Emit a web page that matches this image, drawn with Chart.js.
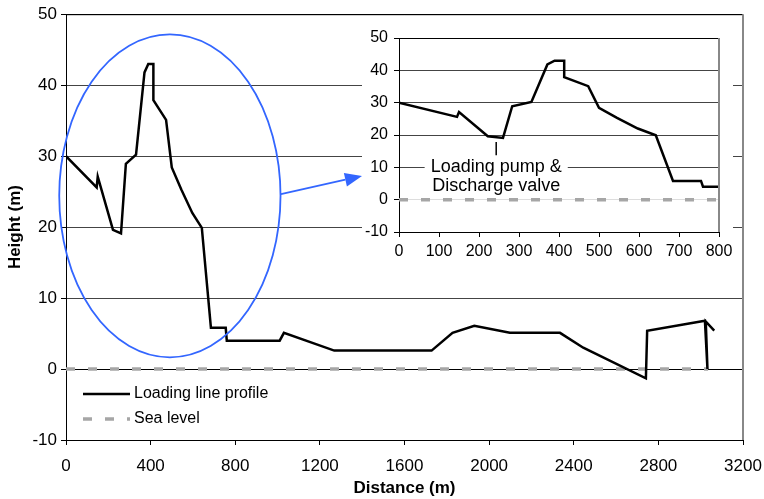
<!DOCTYPE html>
<html>
<head>
<meta charset="utf-8">
<script src="https://cdn.jsdelivr.net/npm/chart.js@4.4.1/dist/chart.umd.min.js"></script>
<style>
  html, body { margin: 0; padding: 0; background: #fff; }
  #wrap { position: relative; width: 764px; height: 499px; }
  #mainChart { position: absolute; left: 0; top: 0; }
  #insetBox { position: absolute; left: 362px; top: 18px; width: 371px; height: 247px; background: #fff; }
</style>
</head>
<body>
<div id="wrap">
  <canvas id="mainChart" width="764" height="499"></canvas>
  <div id="insetBox"><canvas id="insetChart" width="371" height="247"></canvas></div>
</div>
<script>
// data
const distance = [0, 145, 150, 222, 260, 283, 331, 371, 389, 413, 413, 473, 500, 545, 597, 642,
  685, 755, 760, 1010, 1030, 1268, 1728, 1827, 1930, 2098, 2335, 2445, 2741, 2747, 3020, 3032, 3024, 3064];
const height = [30, 25.6, 27.1, 19.6, 19.1, 28.9, 30.2, 41.8, 43, 43, 37.9, 35.1, 28.4, 25.3, 22.0, 19.9,
  5.8, 5.8, 4.0, 4.0, 5.1, 2.6, 2.6, 5.1, 6.1, 5.1, 5.1, 3.0, -1.3, 5.4, 6.8, 0, 6.7, 5.4];
const seaX = [0, 3035];
const seaY = [0, 0];
const insetSeaX = [0, 800];
const insetSeaY = [0, 0];

const mainXTicks = [0, 400, 800, 1200, 1600, 2000, 2400, 2800, 3200];
const insetXTicks = [0, 100, 200, 300, 400, 500, 600, 700, 800];
const yTicks = [-10, 0, 10, 20, 30, 40, 50];

const seriesNames = ['Loading line profile', 'Sea level'];
const noteText = ['Loading pump &', 'Discharge valve'];

const FONT = "Arial, 'Liberation Sans', sans-serif";
Chart.defaults.font.family = FONT;
Chart.defaults.color = '#000';

const toPts = (xs, ys) => xs.map((v, i) => ({ x: v, y: ys[i] }));
const setTicks = list => s => { s.ticks = list.map(v => ({ value: v })); };
const plain = v => String(v);
const fixHeight = h => s => { s.height = h; s.paddingLeft = 0; s.paddingRight = 0; };

function profileSet() {
  return {
    label: seriesNames[0],
    data: toPts(distance, height),
    borderColor: '#000',
    borderWidth: 2.5,
    pointRadius: 0,
    tension: 0
  };
}
function seaSet(xs, ys) {
  return {
    label: seriesNames[1],
    data: toPts(xs, ys),
    borderColor: '#a6a6a6',
    borderWidth: 3.5,
    borderDash: [9, 13],
    borderCapStyle: 'butt',
    pointRadius: 0
  };
}

// frame on top and right side
const frame = {
  id: 'frame',
  afterDraw(chart) {
    const { ctx, chartArea: a } = chart;
    ctx.save();
    ctx.strokeStyle = '#000';
    ctx.lineWidth = 1;
    ctx.beginPath();
    ctx.moveTo(a.left, a.top + 0.5);
    ctx.lineTo(a.right, a.top + 0.5);
    ctx.stroke();
    ctx.strokeStyle = '#888';
    ctx.lineWidth = 2;
    ctx.beginPath();
    ctx.moveTo(a.right, a.top);
    ctx.lineTo(a.right, a.bottom);
    ctx.stroke();
    ctx.restore();
  }
};

// blue ellipse + arrow and legend
const mainExtras = {
  id: 'mainExtras',
  afterDatasetsDraw(chart) {
    const { ctx, scales: { x, y }, chartArea: a } = chart;
    ctx.save();
    const cx = x.getPixelForValue(491), cy = y.getPixelForValue(24.4);
    const rx = x.getPixelForValue(491 + 523) - cx;
    const ry = cy - y.getPixelForValue(24.4 + 22.75);
    ctx.strokeStyle = '#3366ff';
    ctx.lineWidth = 1.8;
    ctx.beginPath();
    ctx.ellipse(cx, cy, rx, ry, 0, 0, Math.PI * 2);
    ctx.stroke();

    const x0 = x.getPixelForValue(1016), y0 = y.getPixelForValue(24.65);
    const x1 = x.getPixelForValue(1399), y1 = y.getPixelForValue(27.2);
    const ang = Math.atan2(y1 - y0, x1 - x0);
    const hl = 17, hw = 7;
    const bx = x1 - hl * Math.cos(ang), by = y1 - hl * Math.sin(ang);
    ctx.beginPath();
    ctx.moveTo(x0, y0);
    ctx.lineTo(bx, by);
    ctx.stroke();
    ctx.fillStyle = '#3366ff';
    ctx.beginPath();
    ctx.moveTo(x1, y1);
    ctx.lineTo(bx + hw * Math.sin(ang), by - hw * Math.cos(ang));
    ctx.lineTo(bx - hw * Math.sin(ang), by + hw * Math.cos(ang));
    ctx.closePath();
    ctx.fill();

    // legend
    const lx = a.left + 17, ly = a.bottom - 46;
    chart.data.datasets.forEach((ds, i) => {
      const yy = ly + i * 25;
      ctx.strokeStyle = ds.borderColor;
      ctx.lineWidth = ds.borderWidth;
      ctx.setLineDash(ds.borderDash || []);
      ctx.lineCap = 'butt';
      ctx.beginPath();
      ctx.moveTo(lx, yy);
      ctx.lineTo(lx + 47, yy);
      ctx.stroke();
      ctx.setLineDash([]);
      ctx.fillStyle = '#000';
      ctx.font = '16px ' + FONT;
      ctx.textBaseline = 'middle';
      ctx.fillText(ds.label, lx + 51, yy);
    });
    ctx.restore();
  }
};

// note in the inset
const insetNote = {
  id: 'insetNote',
  afterDatasetsDraw(chart) {
    const { ctx, scales: { x, y } } = chart;
    ctx.save();
    const px = x.getPixelForValue(243);
    ctx.strokeStyle = '#000';
    ctx.lineWidth = 1.5;
    ctx.beginPath();
    ctx.moveTo(px, y.getPixelForValue(17.8));
    ctx.lineTo(px, y.getPixelForValue(13.7));
    ctx.stroke();
    ctx.font = '18px ' + FONT;
    const w = Math.max(...noteText.map(t => ctx.measureText(t).width));
    const t1 = y.getPixelForValue(10.0), t2 = y.getPixelForValue(4.1);
    ctx.fillStyle = '#fff';
    ctx.fillRect(px - w / 2 - 6, t1 - 11, w + 12, t2 - t1 + 20);
    ctx.fillStyle = '#000';
    ctx.textAlign = 'center';
    ctx.textBaseline = 'middle';
    ctx.fillText(noteText[0], px, t1);
    ctx.fillText(noteText[1], px, t2);
    ctx.restore();
  }
};

new Chart(document.getElementById('mainChart'), {
  type: 'line',
  data: { datasets: [profileSet(), seaSet(seaX, seaY)] },
  options: {
    responsive: false,
    animation: false,
    layout: { padding: { left: 0, right: 21, top: 14, bottom: 0 } },
    plugins: { legend: { display: false }, tooltip: { enabled: false } },
    scales: {
      x: {
        type: 'linear', min: 0, max: 3200,
        afterBuildTicks: setTicks(mainXTicks),
        afterFit: fixHeight(59),
        grid: { drawOnChartArea: false, tickLength: 5, color: '#000' },
        border: { color: '#000', width: 1 },
        ticks: { font: { size: 17 }, padding: 11, maxRotation: 0, callback: plain },
        title: { display: true, text: 'Distance (m)', font: { size: 17, weight: 'bold' }, padding: { top: 0, bottom: 0 } }
      },
      y: {
        type: 'linear', min: -10, max: 50,
        afterBuildTicks: setTicks(yTicks),
        afterFit: s => { s.width = 66; },
        grid: {
          color: c => (c.tick && (c.tick.value === 0 || c.tick.value === 50)) ? '#000' : '#444',
          tickColor: '#000', tickLength: 5
        },
        border: { color: '#000', width: 1 },
        ticks: { font: { size: 17 }, padding: 4, callback: plain },
        title: { display: true, text: 'Height (m)', font: { size: 17, weight: 'bold' }, padding: { top: 5, bottom: 0 } }
      }
    }
  },
  plugins: [frame, mainExtras]
});

new Chart(document.getElementById('insetChart'), {
  type: 'line',
  data: { datasets: [profileSet(), seaSet(insetSeaX, insetSeaY)] },
  options: {
    responsive: false,
    animation: false,
    layout: { padding: { left: 0, right: 14, top: 20, bottom: 0 } },
    plugins: { legend: { display: false }, tooltip: { enabled: false } },
    scales: {
      x: {
        type: 'linear', min: 0, max: 800,
        afterBuildTicks: setTicks(insetXTicks),
        afterFit: fixHeight(33),
        grid: { drawOnChartArea: false, tickLength: 5, color: '#000' },
        border: { color: '#000', width: 1 },
        ticks: { font: { size: 16 }, padding: 5, maxRotation: 0, callback: plain }
      },
      y: {
        type: 'linear', min: -10, max: 50,
        afterBuildTicks: setTicks(yTicks),
        afterFit: s => { s.width = 37; },
        grid: {
          color: c => (c.tick && c.tick.value === 0) ? '#ddd' : (c.tick && c.tick.value === 50 ? '#000' : '#444'),
          tickColor: '#000', tickLength: 5
        },
        border: { color: '#000', width: 1 },
        ticks: { font: { size: 16 }, padding: 6, callback: plain }
      }
    }
  },
  plugins: [frame, insetNote]
});
</script>
</body>
</html>
